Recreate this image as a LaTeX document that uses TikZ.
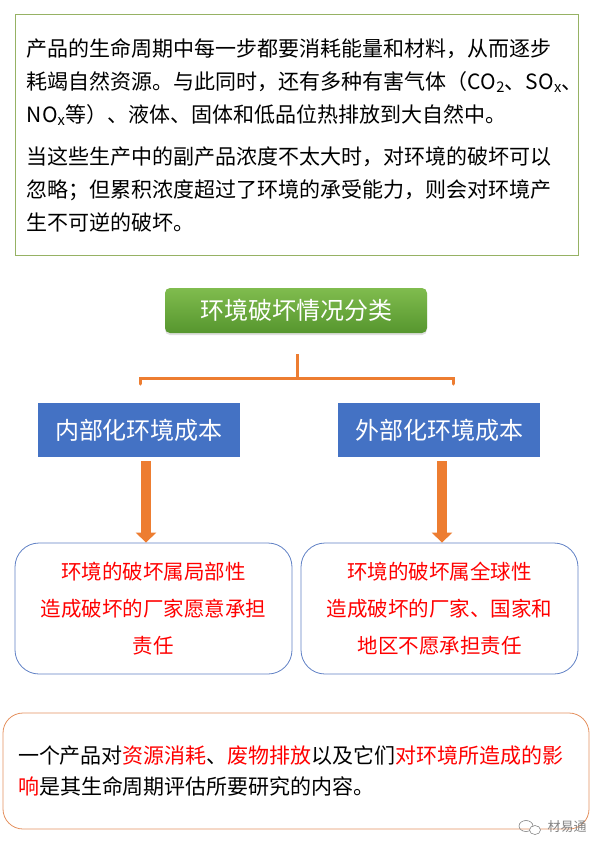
\documentclass[tikz,border=0pt]{standalone}
\usepackage{fontspec}
\setmainfont{Noto Sans CJK SC}
\usetikzlibrary{positioning, arrows.meta, shadows}
\definecolor{notegreen}{RGB}{150,178,100}
\definecolor{titlegreenA}{RGB}{128,188,78}
\definecolor{titlegreenB}{RGB}{86,150,46}
\definecolor{costblue}{RGB}{68,114,196}
\definecolor{caseblue}{RGB}{95,128,196}
\definecolor{linkorange}{RGB}{237,125,49}
\definecolor{sumorange}{RGB}{228,145,95}
\definecolor{markgrey}{RGB}{130,130,130}

\begin{document}
\begin{tikzpicture}[
    x=1pt, y=-1pt,
    notebox/.style={rectangle, draw=notegreen, line width=0.9pt, inner sep=0pt, minimum width=563pt, minimum height=241pt, text width=540pt, align=left, font=\fontsize{21}{33}\selectfont},
    titlebox/.style={rectangle, rounded corners=5pt, top color=titlegreenA, bottom color=titlegreenB, draw=none, text=white, minimum width=262pt, minimum height=45pt, font=\fontsize{24}{28}\selectfont, drop shadow={opacity=0.25, shadow xshift=0pt, shadow yshift=-2pt}},
    costbox/.style={rectangle, fill=costblue, text=white, minimum width=202pt, minimum height=54pt, font=\fontsize{24}{28}\selectfont},
    casebox/.style={rectangle, rounded corners=24pt, draw=caseblue, line width=0.8pt, minimum width=277pt, minimum height=131pt, align=center, text=red, font=\fontsize{20.5}{37}\selectfont},
    sumbox/.style={rectangle, rounded corners=20pt, draw=sumorange, line width=0.8pt, minimum width=586pt, minimum height=116pt, text width=556pt, align=left, font=\fontsize{21}{31}\selectfont},
    bracket/.style={draw=linkorange, line width=3pt},
    bigarrow/.style={-{Triangle[width=20pt, length=10pt]}, draw=linkorange, line width=10pt}
]
\useasboundingbox (0,0) rectangle (597,855);

% === INTRODUCTION ===
\node[notebox, anchor=north west] (intro) at (15,14) {%
产品的生命周期中每一步都要消耗能量和材料，从而逐步\\
耗竭自然资源。与此同时，还有多种有害气体（CO\textsubscript{2}、SO\textsubscript{x}、\\
NO\textsubscript{x}等）、液体、固体和低品位热排放到大自然中。\\[9pt]
当这些生产中的副产品浓度不太大时，对环境的破坏可以\\
忽略；但累积浓度超过了环境的承受能力，则会对环境产\\
生不可逆的破坏。};

% === CLASSIFICATION ===
\node[titlebox] (cls_title) at (296,310.5) {环境破坏情况分类};
\coordinate (brace_top) at (297,354);
\coordinate (brace_mid) at (297,378);
\coordinate (brace_left) at (140,378);
\coordinate (brace_right) at (453,378);

\draw[bracket] (brace_top) -- (brace_mid);
\draw[bracket, line cap=round] ([yshift=-6pt]brace_left) -- (brace_left) -- (brace_right) -- ([yshift=-6pt]brace_right);

\node[costbox] (inner_cost) at (139,430) {内部化环境成本};
\node[costbox] (outer_cost) at (439,430) {外部化环境成本};

% === CASES ===
\node[casebox] (local_case) at (153.5,608.5) {环境的破坏属局部性\\造成破坏的厂家愿意承担\\责任};
\node[casebox] (global_case) at (439.5,608.5) {环境的破坏属全球性\\造成破坏的厂家、国家和\\地区不愿承担责任};

\draw[bigarrow] ([xshift=7pt, yshift=-4pt]inner_cost.south) -- ([xshift=7pt]inner_cost.south |- local_case.north);
\draw[bigarrow] ([xshift=3pt, yshift=-4pt]outer_cost.south) -- ([xshift=3pt]outer_cost.south |- global_case.north);

% === SUMMARY ===
\node[sumbox] (summary) at (296,771) {%
一个产品对\textcolor{red}{资源消耗}、\textcolor{red}{废物排放}以及它们\textcolor{red}{对环境所造成的影}\\
\textcolor{red}{响}是其生命周期评估所要研究的内容。};

% watermark
\node[text=markgrey, font=\fontsize{13}{15}\selectfont, anchor=west] (mark_text) at (544,827) {材易通};
\draw[markgrey, line width=0.6pt] (526,826) ellipse (7pt and 5.5pt);
\draw[markgrey, line width=0.6pt, fill=white] (535,830) ellipse (5.5pt and 4.5pt);

\end{tikzpicture}
\end{document}
